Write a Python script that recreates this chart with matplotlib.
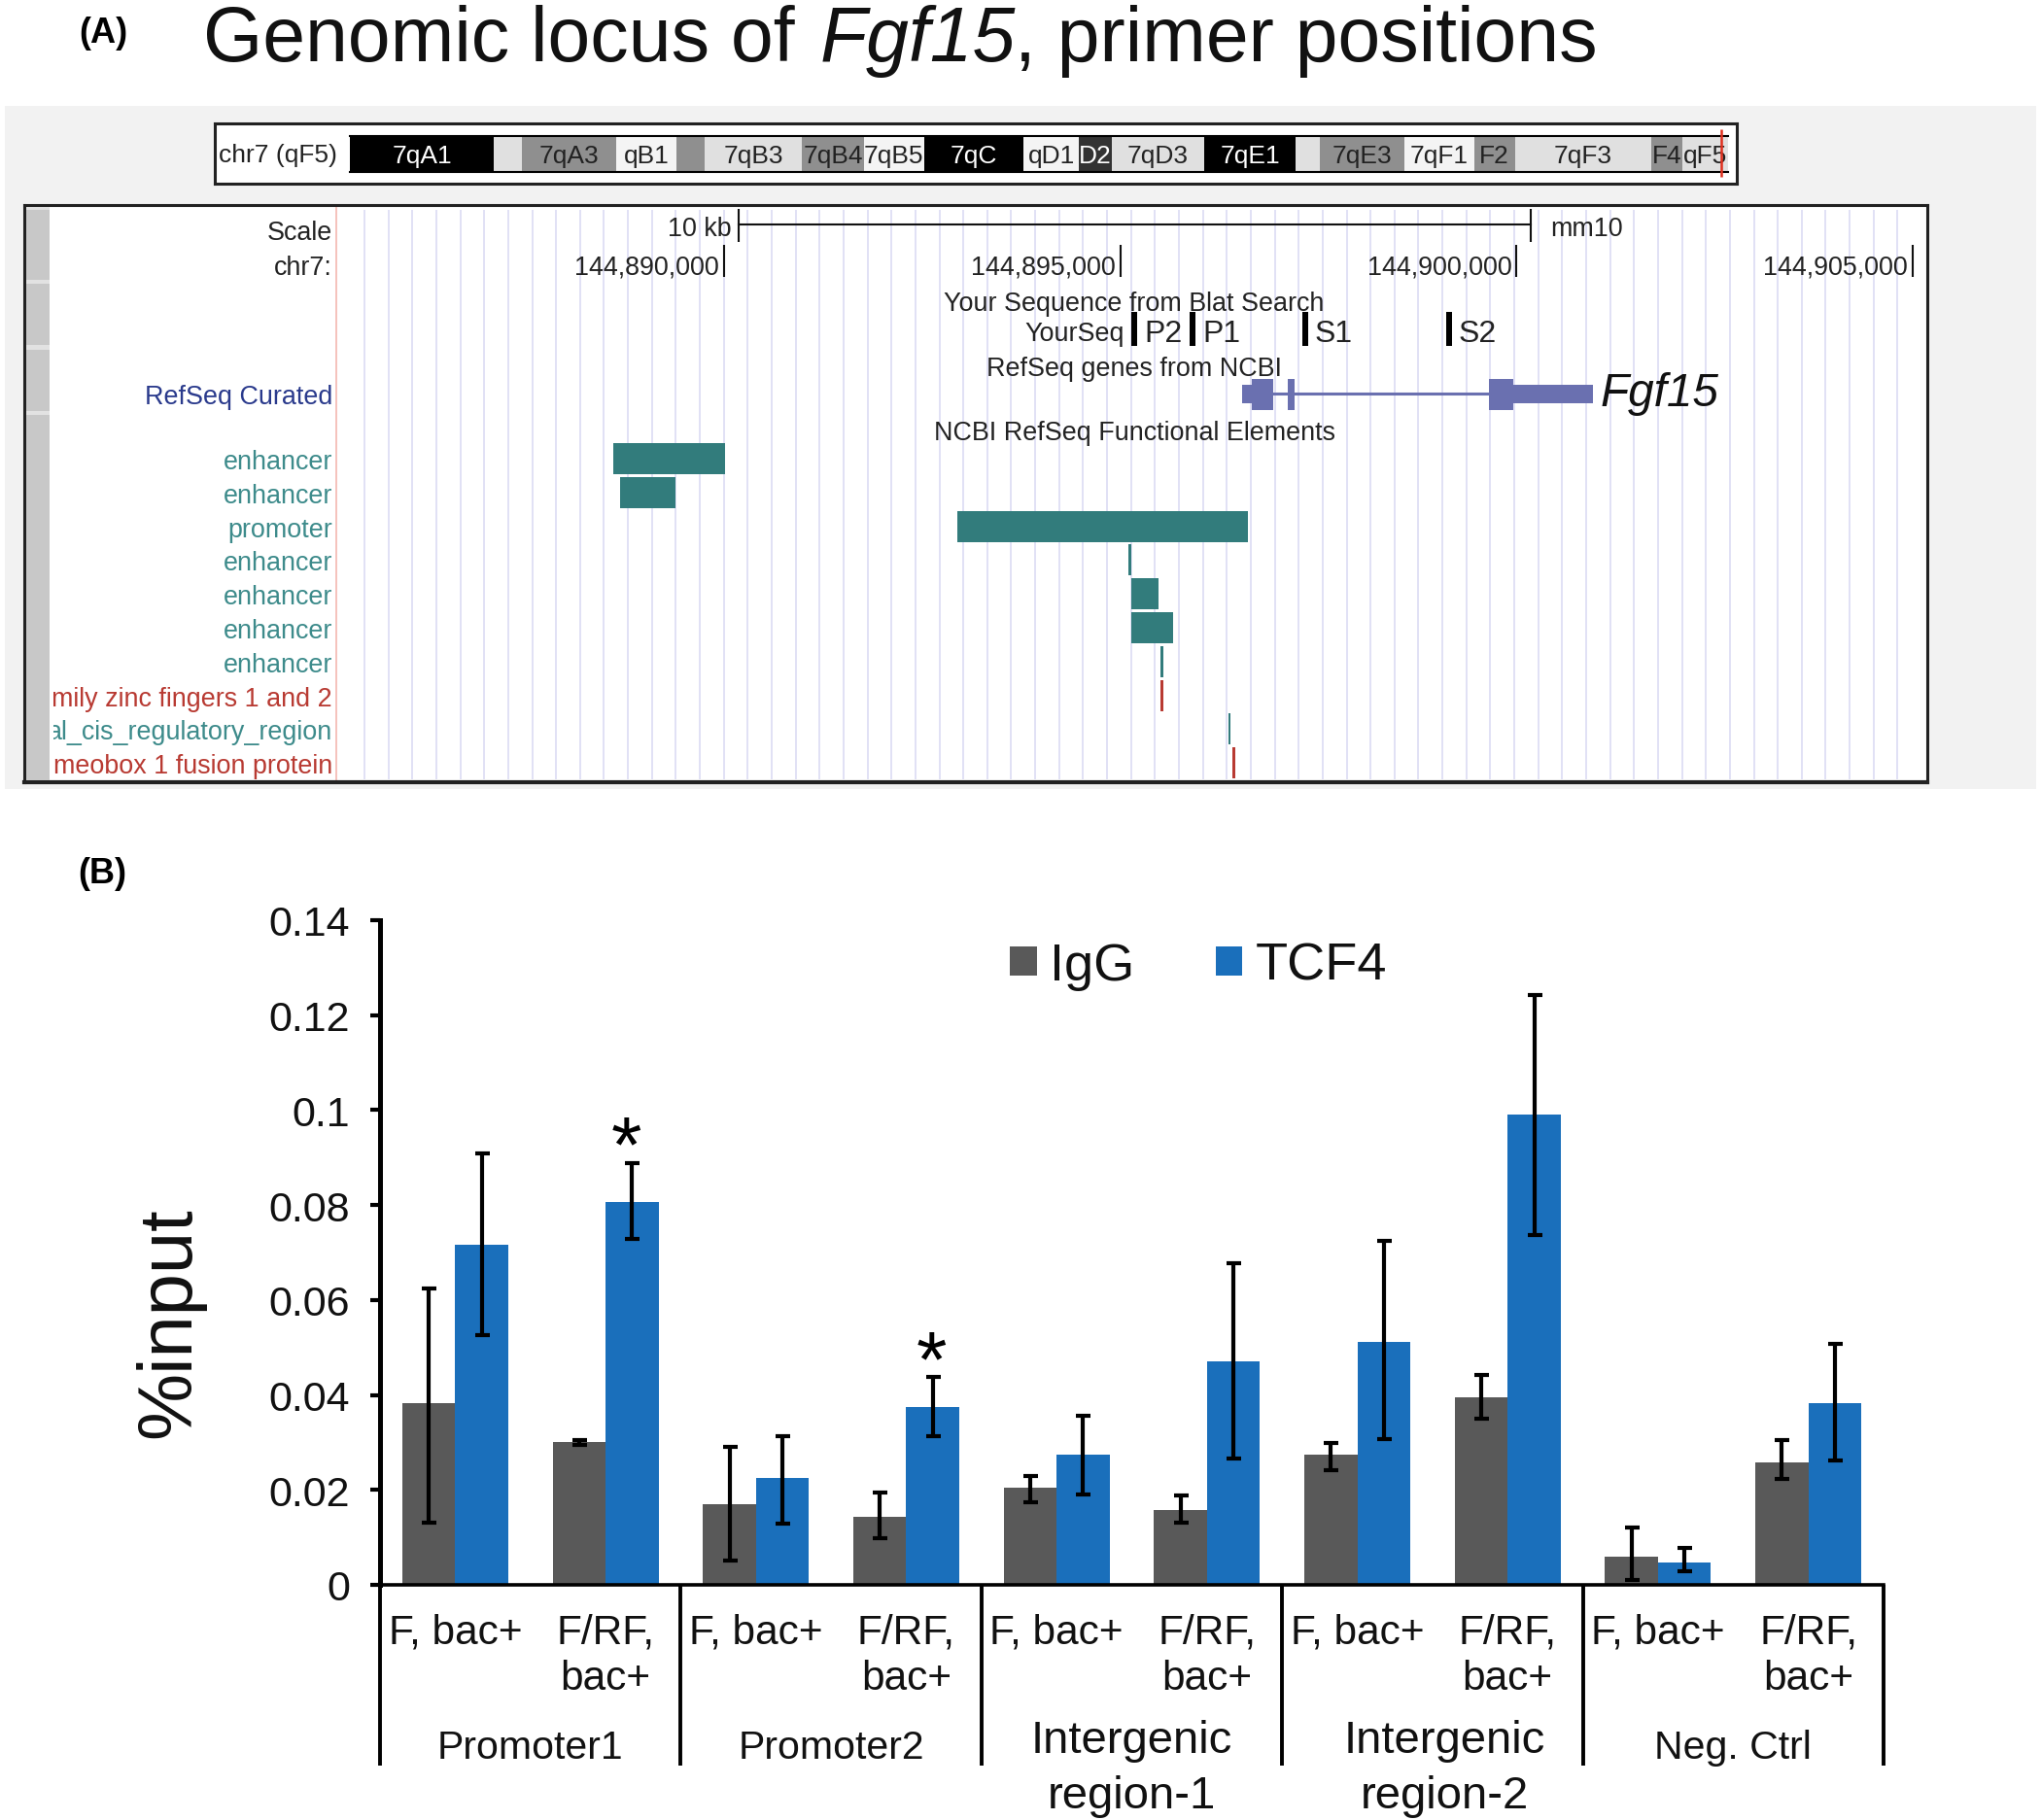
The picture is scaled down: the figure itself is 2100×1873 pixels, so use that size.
import numpy as np
import matplotlib
matplotlib.use("Agg")
import matplotlib.pyplot as plt
from matplotlib.patches import Rectangle
from matplotlib.transforms import Bbox

# --- panel B values
groups = ["Promoter1", "Promoter2", "Intergenic\nregion-1", "Intergenic\nregion-2", "Neg. Ctrl"]
group_label_x = [1, 3, 5, 7.08, 9]
conditions = ["F, bac+", "F/RF,\nbac+"]
y_ticks = [0, 0.02, 0.04, 0.06, 0.08, 0.1, 0.12, 0.14]
y_tick_labels = ["0", "0.02", "0.04", "0.06", "0.08", "0.1", "0.12", "0.14"]

igg = np.array([0.0382, 0.0300, 0.0169, 0.0143, 0.0205, 0.0157, 0.0274, 0.0396, 0.0060, 0.0258])
igg_low = np.array([0.0132, 0.0295, 0.0051, 0.0099, 0.0173, 0.0131, 0.0242, 0.0350, 0.0010, 0.0223])
igg_high = np.array([0.0625, 0.0305, 0.0291, 0.0195, 0.0230, 0.0188, 0.0299, 0.0442, 0.0121, 0.0305])

tcf4 = np.array([0.0717, 0.0806, 0.0225, 0.0374, 0.0274, 0.0470, 0.0512, 0.0990, 0.0047, 0.0382])
tcf4_low = np.array([0.0527, 0.0729, 0.0129, 0.0313, 0.0190, 0.0266, 0.0307, 0.0737, 0.0028, 0.0261])
tcf4_high = np.array([0.0909, 0.0888, 0.0314, 0.0438, 0.0356, 0.0677, 0.0725, 0.1243, 0.0078, 0.0507])

star_x = [1.64, 3.665]
star_y = [0.0917, 0.0464]

# --- panel A: chromosome bands (Mb on chr7)
band_ends = [15.2, 18.1, 28.1, 34.5, 37.4, 47.7, 54.2, 60.6, 71.1, 76.9, 80.4,
             90.1, 99.8, 102.3, 111.3, 118.6, 122.9, 137.3, 140.6, 145.4]
band_labels = ["7qA1", "", "7qA3", "qB1", "", "7qB3", "7qB4", "7qB5", "7qC", "qD1", "D2",
               "7qD3", "7qE1", "", "7qE3", "7qF1", "F2", "7qF3", "F4", "qF5"]
band_stains = ["gpos100", "gpos25", "gpos50", "gneg", "gpos50", "gpos25", "gpos50", "gneg", "gpos100", "gneg",
               "gpos75", "gpos25", "gpos100", "gpos25", "gpos50", "gneg", "gpos50", "gpos25", "gpos50", "gpos25"]
current_position = 144.7

# --- panel A: browser tracks (bp on chr7)
coord_ticks = [144890000, 144895000, 144900000, 144905000]
scale_bar = [144890178, 144900178]
primer_starts = [144895176, 144895918, 144897335, 144899150]
primer_names = ["P2", "P1", "S1", "S2"]
gene_utr = [(144896537, 144896700), (144899960, 144900966)]
gene_cds = [(144896660, 144896930), (144897114, 144897200), (144899653, 144899960)]
gene_span = [144896930, 144899653]

element_names = ["enhancer", "enhancer", "promoter", "enhancer", "enhancer", "enhancer", "enhancer",
                 "mily zinc fingers 1 and 2", "al_cis_regulatory_region", "meobox 1 fusion protein"]
element_starts = [144888602, 144888683, 144892944, 144895105, 144895145, 144895145, 144895507,
                  144895507, 144896366, 144896415]
element_ends = [144890012, 144889382, 144896611, 144895139, 144895483, 144895662, 144895538,
                144895538, 144896396, 144896446]
element_kinds = ["t", "t", "t", "t", "t", "t", "t", "r", "t", "r"]

W, H = 2100, 1874
PT = 0.72  # points per pixel at dpi 100

plt.rcParams["font.family"] = ["Liberation Sans", "DejaVu Sans"]
fig = plt.figure(figsize=(W / 100, H / 100), dpi=100, facecolor="white")


def add_axes_px(x0, y0, x1, y1, **kw):
    return fig.add_axes([x0 / W, 1 - y1 / H, (x1 - x0) / W, (y1 - y0) / H], **kw)


def fig_rect(x0, y0, x1, y1, color, zorder):
    fig.add_artist(Rectangle((x0 / W, 1 - y1 / H), (x1 - x0) / W, (y1 - y0) / H, transform=fig.transFigure,
                             facecolor=color, edgecolor="none", zorder=zorder))


def fig_text(x, y, s, **kw):
    return fig.text(x / W, 1 - y / H, s, **kw)


# title and panel letters
fig_text(81, 35, "(A)", fontsize=26, fontweight="bold", va="center")
fig_text(80, 900, "(B)", fontsize=26, fontweight="bold", va="center")
fig_text(209, 63, "Genomic locus of ", fontsize=56.7, va="baseline", color="#111111")
fig_text(844, 63, "Fgf15", fontsize=56.7, style="italic", va="baseline", color="#111111")
fig_text(1044, 63, ", primer positions", fontsize=56.7, va="baseline", color="#111111")

# gray page behind the screenshot
fig_rect(5, 110, 2095, 813, "#f2f2f2", -5)

# chromosome ideogram
ax_box = add_axes_px(221, 128, 1787, 190, facecolor="white")
ax_box.set_xticks([])
ax_box.set_yticks([])
for s in ax_box.spines.values():
    s.set_linewidth(2.2)
    s.set_color("#222222")

stain_colors = {"gneg": "#f4f4f4", "gpos25": "#e0e0e0", "gpos50": "#8f8f8f", "gpos75": "#333333", "gpos100": "#000000"}
ax_ideo = add_axes_px(360, 141, 1778, 178)
ax_ideo.set_xlim(0, 145.4)
ax_ideo.set_ylim(0, 1)
ax_ideo.set_xticks([])
ax_ideo.set_yticks([])
for s in ax_ideo.spines.values():
    s.set_visible(False)
ax_ideo.spines["top"].set_visible(True)
ax_ideo.spines["bottom"].set_visible(True)
ax_ideo.spines["top"].set_linewidth(1.5)
ax_ideo.spines["bottom"].set_linewidth(1.5)

band_starts = [0] + band_ends[:-1]
for start, end, label, stain in zip(band_starts, band_ends, band_labels, band_stains):
    ax_ideo.barh(0.5, end - start, left=start, height=1, color=stain_colors[stain])
    if label:
        txt = "white" if stain in ("gpos100", "gpos75") else "#222222"
        ax_ideo.text((start + end) / 2, 0.46, label, color=txt, fontsize=19, ha="center", va="center")
ax_ideo.vlines(current_position, -0.135, 1.19, color="#e0301e", lw=1.8, clip_on=False, zorder=5)
fig_text(225, 160, "chr7 (qF5)", fontsize=19, va="center", color="#222222")

# browser window, x axis in bp and y in figure pixels
PX_PER_BP = 0.08153
X_LEFT = 144890000 + (25 - 745) / PX_PER_BP
X_RIGHT = 144890000 + (1983 - 745) / PX_PER_BP
X_RED = 144890000 + (346 - 745) / PX_PER_BP
LABEL_X = 144890000 + (342 - 745) / PX_PER_BP

ax_a = add_axes_px(25, 212, 1983, 806, facecolor="white")
ax_a.set_xlim(X_LEFT, X_RIGHT)
ax_a.set_ylim(806, 212)
ax_a.set_xticks([])
ax_a.set_yticks([])
for s in ax_a.spines.values():
    s.set_linewidth(2.2)
    s.set_color("#222222")
ax_a.spines["bottom"].set_linewidth(3)

# blue guide lines, every 302.3 bp
guide_x = np.arange(144885462, 144904900, 302.3)
ax_a.vlines(guide_x, 217, 803, color="#dcdcf4", lw=1.2, zorder=1)
ax_a.vlines(X_RED, 214, 804, color="#f4b8b0", lw=1.2, zorder=1)

# side bars of the browser
fig_rect(27, 214, 51, 804, "#e2e2e2", 2)
fig_rect(27, 217, 51, 289, "#c8c8c8", 3)
fig_rect(27, 293, 51, 356, "#c8c8c8", 3)
fig_rect(27, 361, 51, 424, "#c8c8c8", 3)
fig_rect(27, 428, 51, 804, "#c8c8c8", 3)

TRACK_FS = 19.4
DY = 3
DARK = "#222222"
TEAL = "#3d8b8b"
RED = "#b83a32"
BAR_TEAL = "#327c7c"

ax_a.text(LABEL_X, 237 + DY, "Scale", fontsize=TRACK_FS, ha="right", va="center", color=DARK)
ax_a.text(LABEL_X, 273 + DY, "chr7:", fontsize=TRACK_FS, ha="right", va="center", color=DARK)

# scale bar
ax_a.plot(scale_bar, [232, 232], color="#111111", lw=1.5, zorder=3)
ax_a.vlines(scale_bar, 216, 250, color="#111111", lw=1.5, zorder=3)
ax_a.annotate("10 kb", (scale_bar[0], 233 + DY), xytext=(-6.5 * PT, 0), textcoords="offset points",
              fontsize=TRACK_FS, ha="right", va="center", color=DARK)
ax_a.annotate("mm10", (scale_bar[1], 233 + DY), xytext=(20 * PT, 0), textcoords="offset points",
              fontsize=TRACK_FS, ha="left", va="center", color=DARK)

# coordinates
ax_a.vlines(coord_ticks, 253, 286, color="#111111", lw=1.5, zorder=3)
for pos in coord_ticks:
    ax_a.annotate(f"{pos:,}", (pos, 272 + DY), xytext=(-5 * PT, 0), textcoords="offset points",
                  fontsize=TRACK_FS, ha="right", va="center", color=DARK)

# track headings
MID = 144890000 + (1167 - 745) / PX_PER_BP
ax_a.text(MID, 310 + DY, "Your Sequence from Blat Search", fontsize=TRACK_FS, ha="center", va="center", color=DARK)
ax_a.text(MID, 377 + DY, "RefSeq genes from NCBI", fontsize=TRACK_FS, ha="center", va="center", color=DARK)
ax_a.text(MID, 443 + DY, "NCBI RefSeq Functional Elements", fontsize=TRACK_FS, ha="center", va="center", color=DARK)
ax_a.text(LABEL_X, 406 + DY, "RefSeq Curated", fontsize=TRACK_FS, ha="right", va="center", color="#2a3a8c")

# primers
ax_a.annotate("YourSeq", (primer_starts[0], 341 + DY), xytext=(-10 * PT, 0), textcoords="offset points",
              fontsize=TRACK_FS, ha="right", va="center", color=DARK)
for pos, name in zip(primer_starts, primer_names):
    ax_a.vlines(pos, 322, 357, color="black", lw=6 * PT, zorder=3)
    ax_a.annotate(name, (pos, 341 + DY), xytext=(10 * PT, 0), textcoords="offset points",
                  fontsize=23, ha="left", va="center", color=DARK)

# gene model
GENE = "#6a70b0"
ax_a.plot(gene_span, [406, 406], color=GENE, lw=2.2, zorder=3)
for start, end in gene_utr:
    ax_a.barh(406.5, end - start, left=start, height=19, color=GENE, zorder=3)
for start, end in gene_cds:
    ax_a.barh(407, end - start, left=start, height=32, color=GENE, zorder=3)
ax_a.annotate("Fgf15", (gene_utr[1][1], 418), xytext=(7 * PT, 0), textcoords="offset points",
              fontsize=34.4, style="italic", ha="left", va="baseline", color="#111111")

# functional elements, one row each; long names are cut at the left like the browser does
label_box = Bbox([[55, 0], [346, H]])
for i, (name, start, end, kind) in enumerate(zip(element_names, element_starts, element_ends, element_kinds)):
    row_y = 473 + 34.8 * i
    bar_c = BAR_TEAL if kind == "t" else RED
    lab_c = TEAL if kind == "t" else RED
    ax_a.barh(row_y, end - start, left=start, height=32, color=bar_c, zorder=3)
    t = ax_a.text(LABEL_X, row_y + DY, name, fontsize=TRACK_FS, ha="right", va="center", color=lab_c)
    t.set_clip_box(label_box)
    t.set_clip_on(True)

# panel B
ax = add_axes_px(391, 948, 1938, 1632)
x = np.arange(len(igg)) + 0.5
w = 54.5 / 154.7
b1 = ax.bar(x - w / 2, igg, w, color="#595959", label="IgG", zorder=2)
b2 = ax.bar(x + w / 2, tcf4, w, color="#1a6fbb", label="TCF4", zorder=2)
err_kw = dict(fmt="none", ecolor="black", elinewidth=3, capsize=5.4, capthick=3, zorder=3)
ax.errorbar(x - w / 2, igg, yerr=[igg - igg_low, igg_high - igg], **err_kw)
ax.errorbar(x + w / 2, tcf4, yerr=[tcf4 - tcf4_low, tcf4_high - tcf4], **err_kw)

ax.set_xlim(0, 10)
ax.set_ylim(0, 0.14)
ax.set_yticks(y_ticks)
ax.set_yticklabels(y_tick_labels, fontsize=31, color="#111111")
ax.tick_params(axis="y", length=7 * PT * 1.4, width=3, pad=15)
# long x ticks are the group dividers
ax.set_xticks(np.arange(0, 11, 2))
ax.tick_params(axis="x", length=134, width=2.8, labelbottom=False)
ax.spines["top"].set_visible(False)
ax.spines["right"].set_visible(False)
ax.spines["left"].set_linewidth(3.6)
ax.spines["bottom"].set_linewidth(2.6)

for xi, yi in zip(star_x, star_y):
    ax.text(xi, yi, "*", fontsize=58, ha="center", va="center")

for i, xc in enumerate(x):
    lines = conditions[i % 2].split("\n")
    for j, line in enumerate(lines):
        ax.annotate(line, (xc, 0), xytext=(0, -(49 + 47 * j) * PT), textcoords="offset points",
                    fontsize=30.5, ha="center", va="center", annotation_clip=False, color="#111111")

for name, xc in zip(groups, group_label_x):
    if "\n" in name:
        for j, line in enumerate(name.split("\n")):
            ax.annotate(line, (xc, 0), xytext=(0, -(160 + 57 * j) * PT), textcoords="offset points",
                        fontsize=34, ha="center", va="center", annotation_clip=False, color="#111111")
    else:
        ax.annotate(name, (xc, 0), xytext=(0, -167 * PT), textcoords="offset points",
                    fontsize=29.5, ha="center", va="center", annotation_clip=False, color="#111111")

fig_text(175, 1361, "%input", fontsize=56, rotation=90, ha="center", va="center", color="#111111")

ax.legend(handles=[b1, b2], ncol=2, frameon=False, fontsize=39, loc="upper left",
          bbox_to_anchor=((1039 - 391) / 1547, 1 - 22 / 684), handlelength=0.51, handleheight=0.477,
          handletextpad=0.24, columnspacing=1.55, borderaxespad=0, borderpad=0, labelcolor="#111111")

fig.savefig("out.png", dpi=100)
